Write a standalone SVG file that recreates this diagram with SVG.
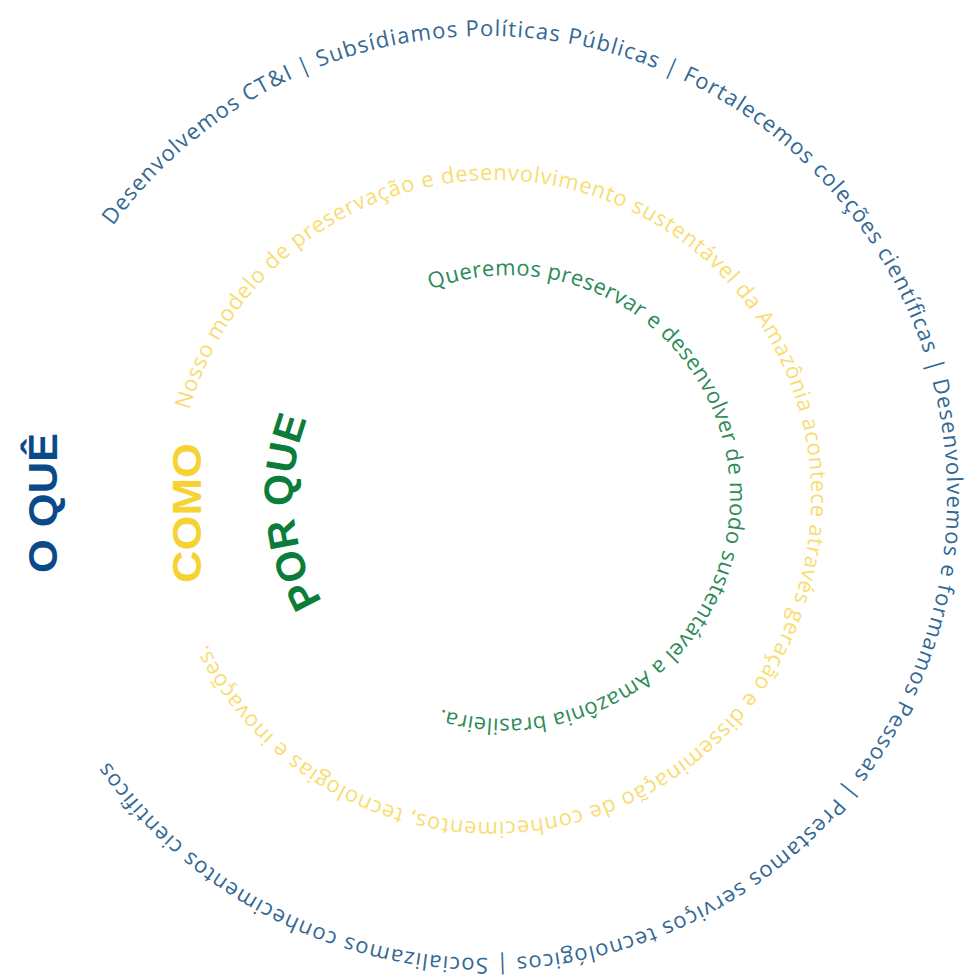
<svg xmlns="http://www.w3.org/2000/svg" xmlns:xlink="http://www.w3.org/1999/xlink" width="979" height="978" viewBox="0 0 979 978">
  <style>
    .ring { font-family: "Open Sans", "Liberation Sans", sans-serif; font-size: 22px; font-weight: 400; }
    .outer { fill: #336894; }
    .mid { fill: #f8dd72; }
    .inner { fill: #2d8b57; }
    .label { font-family: "Liberation Sans", Arial, sans-serif; font-size: 41px; font-weight: bold; text-anchor: middle; }
  </style>
  <defs>
    <path id="pOuter" d="M113,226 A461,461 0 1,1 859,768 A461,461 0 1,1 113,226"/>
    <path id="pMid" d="M189.4,409.9 A317,317 0 1,1 796.6,592.1 A317,317 0 1,1 189.4,409.9"/>
    <path id="pInner" d="M430.7,289.6 A221,221 0 1,1 583.3,704.4 A221,221 0 1,1 430.7,289.6"/>
    <path id="pPorque" d="M353.6,641.4 A207,207 0 0,1 353.6,348.6"/>
  </defs>
  <rect width="979" height="978" fill="#ffffff"/>
  <g id="ring-o-que">
    <text class="ring outer"><textPath xlink:href="#pOuter" href="#pOuter" textLength="2325" lengthAdjust="spacing">Desenvolvemos CT&amp;I | Subsídiamos Políticas Públicas | Fortalecemos coleções científicas | Desenvolvemos e formamos Pessoas | Prestamos serviços tecnológicos | Socializamos conhecimentos científicos</textPath></text>
  </g>
  <g id="ring-como">
    <text class="ring mid"><textPath xlink:href="#pMid" href="#pMid" textLength="1767" lengthAdjust="spacing">Nosso modelo de preservação e desenvolvimento sustentável da Amazônia acontece através geração e disseminação de conhecimentos, tecnologias e inovações.</textPath></text>
  </g>
  <g id="ring-por-que">
    <text class="ring inner"><textPath xlink:href="#pInner" href="#pInner" textLength="843" lengthAdjust="spacing">Queremos preservar e desenvolver de modo sustentável a Amazônia brasileira.</textPath></text>
  </g>
  <g id="label-o-que">
    <text class="label" fill="#0b4a88" transform="translate(57,503) rotate(-90)" textLength="140" lengthAdjust="spacingAndGlyphs">O QUÊ</text>
  </g>
  <g id="label-como">
    <text class="label" fill="#f6d232" transform="translate(201,513) rotate(-90)" textLength="140" lengthAdjust="spacingAndGlyphs">COMO</text>
  </g>
  <g id="label-por-que">
    <text class="label" fill="#0b7d3b"><textPath xlink:href="#pPorque" href="#pPorque" startOffset="44.8%">POR QUE</textPath></text>
  </g>
</svg>
